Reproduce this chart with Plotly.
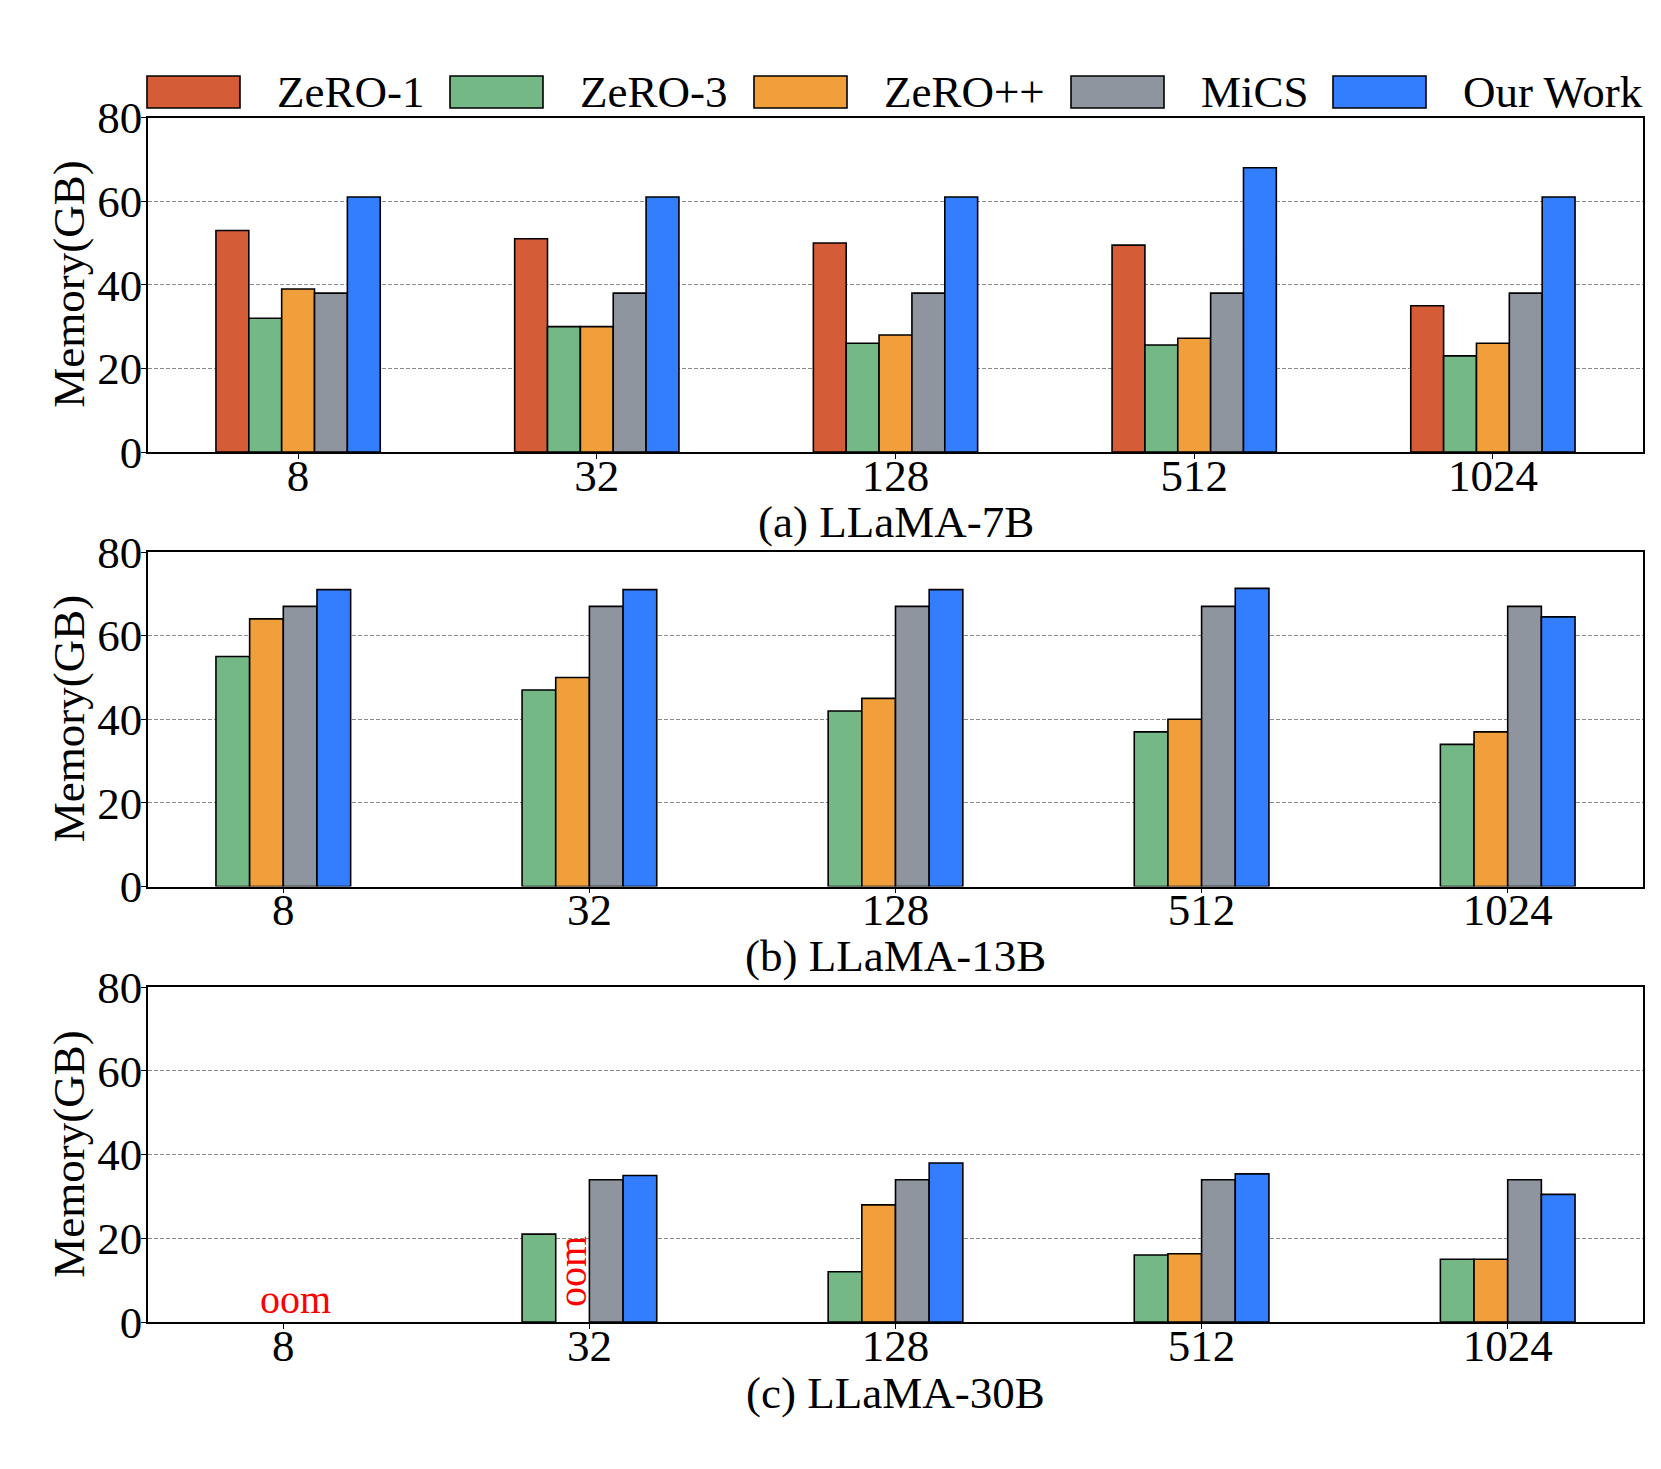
import plotly.graph_objects as go

W, H = 1661, 1469

categories = ["8", "32", "128", "512", "1024"]
series_names = ["ZeRO-1", "ZeRO-3", "ZeRO++", "MiCS", "Our Work"]
colors = ["#D45D38", "#74B886", "#F09F3A", "#8F959E", "#337EFF"]

# (a) LLaMA-7B
zero1_7b = [53, 51, 50, 49.5, 35]
zero3_7b = [32, 30, 26, 25.6, 23]
zeropp_7b = [39, 30, 28, 27.2, 26]
mics_7b = [38, 38, 38, 38, 38]
ours_7b = [61, 61, 61, 68, 61]

# (b) LLaMA-13B
zero3_13b = [55, 47, 42, 37, 34]
zeropp_13b = [64, 50, 45, 40, 37]
mics_13b = [67, 67, 67, 67, 67]
ours_13b = [71, 71, 71, 71.3, 64.5]

# (c) LLaMA-30B (None = out of memory)
zero3_30b = [None, 21, 12, 16, 15]
zeropp_30b = [None, None, 28, 16.3, 15]
mics_30b = [None, 34, 34, 34, 34]
ours_30b = [None, 35, 38, 35.4, 30.5]

y_ticks = [0, 20, 40, 60, 80]
captions = ["(a) LLaMA-7B", "(b) LLaMA-13B", "(c) LLaMA-30B"]

panels = [
    {"series": [("ZeRO-1", zero1_7b), ("ZeRO-3", zero3_7b), ("ZeRO++", zeropp_7b),
                ("MiCS", mics_7b), ("Our Work", ours_7b)]},
    {"series": [("ZeRO-3", zero3_13b), ("ZeRO++", zeropp_13b),
                ("MiCS", mics_13b), ("Our Work", ours_13b)]},
    {"series": [("ZeRO-3", zero3_30b), ("ZeRO++", zeropp_30b),
                ("MiCS", mics_30b), ("Our Work", ours_30b)]},
]

FONT = "Liberation Serif, Times New Roman, serif"
FS = 45
BW = 0.11  # bar width in category units

# pixel layout
x_left, x_right = 148, 1643
panel_px = [(117.6, 452), (552, 886.6), (987.3, 1322)]
caption_y_px = [522, 956.5, 1393]
ytitle_x_px = 69

def py(p):
    return 1 - p / H

fig = go.Figure()
color_of = dict(zip(series_names, colors))

for i, panel in enumerate(panels):
    ax = "" if i == 0 else str(i + 1)
    n = len(panel["series"])
    for k, (name, vals) in enumerate(panel["series"]):
        fig.add_trace(go.Bar(
            x=categories, y=vals, name=name,
            width=BW, offset=(k - n / 2) * BW,
            marker=dict(color=color_of[name], line=dict(color="black", width=1.6)),
            xaxis="x" + ax, yaxis="y" + ax, showlegend=False,
        ))
    lo = -n / 2 * BW
    hi = len(categories) - 1 + n / 2 * BW
    m = 0.05 * (hi - lo)
    top, bot = panel_px[i]
    fig.layout["xaxis" + ax] = dict(
        domain=[x_left / W, x_right / W], anchor="y" + ax, type="category",
        range=[lo - m, hi + m], showline=True, mirror=True, linecolor="black",
        linewidth=1.6, ticks="outside", ticklen=5, tickwidth=1, tickcolor="black",
        showgrid=False, automargin=False, ticklabelstandoff=-22,
        tickfont=dict(family=FONT, size=FS, color="black"),
    )
    fig.layout["yaxis" + ax] = dict(
        domain=[py(bot), py(top)], anchor="x" + ax, range=[0, 80],
        tickvals=y_ticks, showline=True, mirror=True, linecolor="black",
        linewidth=1.6, ticks="outside", ticklen=5, tickwidth=1, tickcolor="black",
        showgrid=True, gridcolor="#8a8a8a", gridwidth=1, griddash="4px,2px",
        zeroline=False, automargin=False, ticklabelstandoff=-10,
        tickfont=dict(family=FONT, size=FS, color="black"),
    )
    fig.add_annotation(
        text="Memory(GB)", xref="paper", yref="paper",
        x=ytitle_x_px / W, y=py((top + bot) / 2), textangle=-90,
        showarrow=False, xanchor="center", yanchor="middle",
        font=dict(family=FONT, size=FS, color="black"),
    )
    fig.add_annotation(
        text=captions[i], xref="x" + ax + " domain", yref="paper",
        x=0.5, y=py(caption_y_px[i]), showarrow=False,
        xanchor="center", yanchor="middle",
        font=dict(family=FONT, size=FS, color="black"),
    )

# oom labels in panel (c)
fig.add_annotation(text="oom", xref="x3", yref="y3", x=0.04, y=5.3,
                   showarrow=False, xanchor="center", yanchor="middle",
                   font=dict(family=FONT, size=40, color="red"))
fig.add_annotation(text="oom", xref="x3", yref="y3", x=1 - 0.5 * BW, y=12.1,
                   showarrow=False, xanchor="center", yanchor="middle", textangle=-90,
                   font=dict(family=FONT, size=40, color="red"))

# custom legend
patch_left_px = [147, 450, 754, 1071, 1333]
patch_w_px, patch_top_px, patch_bot_px = 93, 76, 108
for name, c, pl in zip(series_names, colors, patch_left_px):
    fig.add_shape(type="rect", xref="paper", yref="paper",
                  x0=pl / W, x1=(pl + patch_w_px) / W,
                  y0=py(patch_bot_px), y1=py(patch_top_px),
                  fillcolor=c, line=dict(color="black", width=1.6))
    fig.add_annotation(text=name, xref="paper", yref="paper",
                       x=(pl + patch_w_px + 35) / W, y=py((patch_top_px + patch_bot_px) / 2),
                       showarrow=False, xanchor="left", yanchor="middle",
                       font=dict(family=FONT, size=FS, color="black"))

fig.update_layout(
    width=W, height=H, margin=dict(l=0, r=0, t=0, b=0, autoexpand=False),
    paper_bgcolor="white", plot_bgcolor="white", showlegend=False,
    font=dict(family=FONT, size=FS, color="black"),
)

fig.write_html("out.html")
